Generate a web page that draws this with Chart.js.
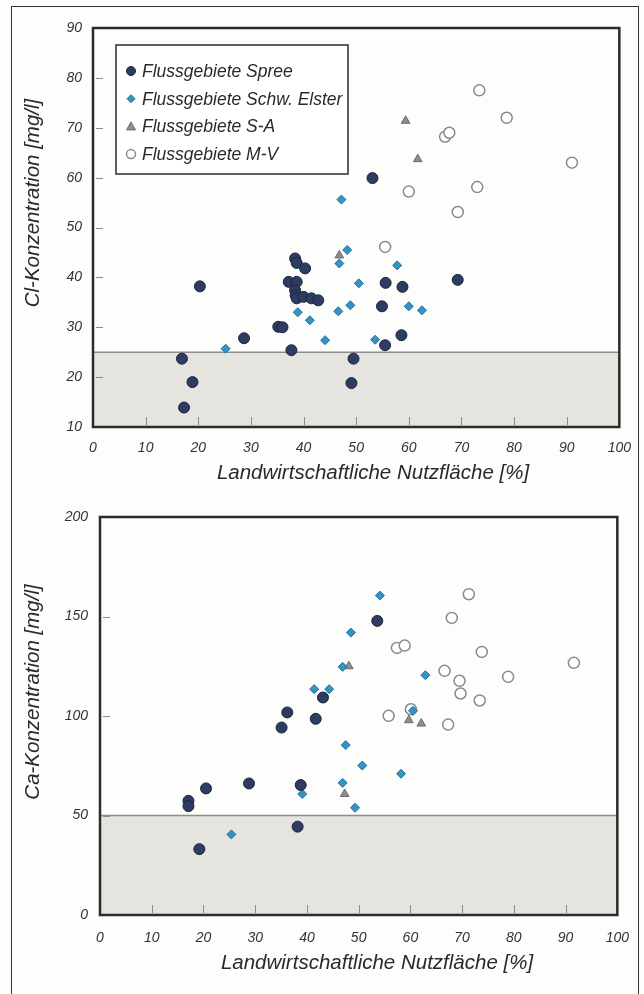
<!DOCTYPE html>
<html>
<head>
<meta charset="utf-8">
<script src="https://cdn.jsdelivr.net/npm/chart.js@4.4.0/dist/chart.umd.min.js"></script>
<style>
    html, body { margin: 0; padding: 0; background: #fdfdfb; }
    #page { position: relative; width: 644px; height: 994px; overflow: hidden; }
    #frame { position: absolute; left: 11px; top: 6px; width: 628px; height: 1000px; border: 1.5px solid #333; box-sizing: border-box; }
    #clChart { position: absolute; left: 0; top: 0; }
    #caChart { position: absolute; left: 0; top: 490px; }
</style>
</head>
<body>
<div id="page">
    <div id="frame"></div>
    <canvas id="clChart" width="644" height="490"></canvas>
    <canvas id="caChart" width="644" height="504"></canvas>
</div>
<script>
// Series names
var seriesNames = ['Flussgebiete Spree', 'Flussgebiete Schw. Elster', 'Flussgebiete S-A', 'Flussgebiete M-V'];

// Cl-Konzentration [mg/l] vs. landwirtschaftliche Nutzfläche [%]
var spreeClX = [16.9, 18.9, 17.3, 20.3, 28.7, 35.2, 36.0, 37.7, 38.4, 38.7, 40.3, 37.2, 38.7, 38.4, 38.5, 38.7, 40.0, 41.5, 42.8, 49.5, 49.1, 53.1, 54.9, 55.6, 55.5, 58.8, 58.6, 69.3];
var spreeClY = [23.7, 19.0, 13.9, 38.2, 27.8, 30.1, 30.0, 25.4, 43.8, 42.9, 41.8, 39.1, 39.1, 37.4, 36.4, 35.8, 36.1, 35.8, 35.4, 23.7, 18.8, 59.9, 34.2, 38.9, 26.4, 38.1, 28.4, 39.5];
var elsterClX = [25.2, 38.9, 41.2, 44.1, 46.8, 47.2, 48.3, 46.6, 48.9, 50.5, 53.6, 57.8, 60.0, 62.5];
var elsterClY = [25.7, 33.0, 31.4, 27.4, 42.8, 55.6, 45.5, 33.2, 34.4, 38.8, 27.5, 42.4, 34.2, 33.4];
var saClX = [46.8, 59.4, 61.7];
var saClY = [44.4, 71.4, 63.7];
var mvClX = [55.5, 60.0, 66.9, 67.7, 69.3, 73.0, 73.4, 78.6, 91.0];
var mvClY = [46.1, 57.2, 68.2, 69.0, 53.1, 58.1, 77.5, 72.0, 63.0];

// Ca-Konzentration [mg/l] vs. landwirtschaftliche Nutzfläche [%]
var spreeCaX = [17.1, 17.1, 19.2, 20.5, 28.8, 35.1, 36.2, 38.8, 38.2, 41.7, 43.1, 53.6];
var spreeCaY = [57.4, 54.7, 33.1, 63.6, 66.1, 94.2, 101.8, 65.3, 44.4, 98.6, 109.3, 147.8];
var elsterCaX = [25.4, 39.1, 41.4, 44.3, 46.9, 48.5, 47.5, 50.7, 46.9, 49.3, 54.1, 58.2, 60.5, 62.9];
var elsterCaY = [40.5, 60.8, 113.5, 113.5, 124.7, 141.9, 85.4, 75.1, 66.4, 53.9, 160.5, 71.0, 102.6, 120.5];
var saCaX = [48.1, 47.3, 59.7, 62.1];
var saCaY = [125.0, 60.8, 97.9, 96.2];
var mvCaX = [55.8, 57.4, 58.9, 60.1, 66.6, 67.3, 68.0, 69.5, 69.7, 71.3, 73.4, 73.8, 78.9, 91.6];
var mvCaY = [100.1, 134.2, 135.4, 103.4, 122.7, 95.7, 149.3, 117.7, 111.3, 161.2, 107.8, 132.2, 119.7, 126.7];

// Shaded range below the limit
var clLimit = 25;
var caLimit = 50;

var FONT = "'Liberation Sans', Arial, sans-serif";

var styles = [
    { pointStyle: 'circle', pointRadius: 5.5, backgroundColor: '#2e3c62', borderColor: '#1b2440', borderWidth: 1 },
    { pointStyle: 'rectRot', pointRadius: 4.5, backgroundColor: '#3592c4', borderColor: '#24719e', borderWidth: 1 },
    { pointStyle: 'triangle', pointRadius: 5, backgroundColor: '#8e8e8e', borderColor: '#6a6a6a', borderWidth: 1 },
    { pointStyle: 'circle', pointRadius: 5.5, backgroundColor: '#ffffff', borderColor: '#8a8a8a', borderWidth: 1.5 }
];

function pts(xs, ys) {
    return xs.map(function(x, i) { return { x: x, y: ys[i] }; });
}

function buildDatasets(series) {
    return series.map(function(s, i) {
        return Object.assign({ label: seriesNames[i], data: pts(s[0], s[1]), pointHoverRadius: styles[i].pointRadius }, styles[i]);
    });
}

// band, inner ticks, frame, titles and legend
var decorPlugin = {
    id: 'decor',
    beforeDatasetsDraw: function(chart, args, o) {
        var ctx = chart.ctx, a = chart.chartArea, x = chart.scales.x, y = chart.scales.y;
        ctx.save();
        var top = y.getPixelForValue(o.band);
        ctx.fillStyle = '#e5e4df';
        ctx.fillRect(a.left, top, a.right - a.left, a.bottom - top);
        ctx.strokeStyle = '#8d8d8d';
        ctx.lineWidth = 1.5;
        ctx.beginPath();
        ctx.moveTo(a.left, top);
        ctx.lineTo(a.right, top);
        ctx.stroke();

        ctx.strokeStyle = '#8a8a8a';
        ctx.lineWidth = 1;
        ctx.beginPath();
        y.ticks.forEach(function(t) {
            var py = Math.round(y.getPixelForValue(t.value)) + 0.5;
            ctx.moveTo(a.left + 3, py);
            ctx.lineTo(a.left + 10, py);
        });
        x.ticks.forEach(function(t) {
            var px = Math.round(x.getPixelForValue(t.value)) + 0.5;
            ctx.moveTo(px, a.bottom - 2);
            ctx.lineTo(px, a.bottom - 10);
        });
        ctx.stroke();
        ctx.restore();
    },
    afterDraw: function(chart, args, o) {
        var ctx = chart.ctx, a = chart.chartArea;
        ctx.save();
        ctx.strokeStyle = '#2b2b2b';
        ctx.lineWidth = 2.5;
        ctx.strokeRect(a.left, a.top, a.right - a.left, a.bottom - a.top);

        ctx.fillStyle = '#2a2a2a';
        ctx.font = 'italic 20.5px ' + FONT;
        ctx.textAlign = 'center';
        ctx.textBaseline = 'middle';
        ctx.fillText(o.xTitle.text, o.xTitle.x, o.xTitle.y);
        ctx.save();
        ctx.translate(o.yTitle.x, o.yTitle.y);
        ctx.rotate(-Math.PI / 2);
        ctx.fillText(o.yTitle.text, 0, 0);
        ctx.restore();

        if (o.legend) {
            var L = o.legend;
            ctx.fillStyle = '#ffffff';
            ctx.fillRect(L.left, L.top, L.width, L.height);
            ctx.strokeStyle = '#2b2b2b';
            ctx.lineWidth = 1.5;
            ctx.strokeRect(L.left, L.top, L.width, L.height);
            ctx.font = 'italic 17.5px ' + FONT;
            ctx.textAlign = 'left';
            chart.data.datasets.forEach(function(ds, i) {
                var cy = L.firstY + i * L.step;
                var mx = L.left + 15;
                ctx.fillStyle = ds.backgroundColor;
                ctx.strokeStyle = ds.borderColor;
                ctx.lineWidth = ds.borderWidth;
                ctx.beginPath();
                if (ds.pointStyle === 'rectRot') {
                    ctx.moveTo(mx, cy - 4); ctx.lineTo(mx + 4, cy); ctx.lineTo(mx, cy + 4); ctx.lineTo(mx - 4, cy);
                    ctx.closePath();
                } else if (ds.pointStyle === 'triangle') {
                    ctx.moveTo(mx, cy - 4.5); ctx.lineTo(mx + 4.5, cy + 3.5); ctx.lineTo(mx - 4.5, cy + 3.5);
                    ctx.closePath();
                } else {
                    ctx.arc(mx, cy, 4.5, 0, Math.PI * 2);
                }
                ctx.fill();
                ctx.stroke();
                ctx.fillStyle = '#2a2a2a';
                ctx.fillText(ds.label, L.left + 26, cy + 1);
            });
        }
        ctx.restore();
    }
};

function makeChart(id, series, cfg) {
    var tickFont = { family: FONT, size: 14, style: 'italic' };
    return new Chart(document.getElementById(id), {
        type: 'scatter',
        data: { datasets: buildDatasets(series) },
        plugins: [decorPlugin],
        options: {
            responsive: false,
            animation: false,
            layout: { padding: cfg.padding },
            plugins: {
                legend: { display: false },
                tooltip: { enabled: false },
                decor: cfg.decor
            },
            scales: {
                x: {
                    type: 'linear', min: 0, max: 100,
                    ticks: { stepSize: 10, font: tickFont, color: '#333', padding: cfg.xPad, maxRotation: 0 },
                    grid: { display: false, drawTicks: false },
                    border: { display: false },
                    afterFit: function(s) { s.height = cfg.xHeight; }
                },
                y: {
                    type: 'linear', min: cfg.yMin, max: cfg.yMax,
                    ticks: { stepSize: cfg.yStep, font: tickFont, color: '#333', padding: cfg.yPad },
                    grid: { display: false, drawTicks: false },
                    border: { display: false },
                    afterFit: function(s) { s.width = cfg.yWidth; }
                }
            }
        }
    });
}

makeChart('clChart',
    [[spreeClX, spreeClY], [elsterClX, elsterClY], [saClX, saClY], [mvClX, mvClY]],
    {
        padding: { top: 28, right: 21, left: 0, bottom: 0 },
        yWidth: 93, xHeight: 63, xPad: 13, yPad: 11,
        yMin: 10, yMax: 90, yStep: 10,
        decor: {
            band: clLimit,
            xTitle: { text: 'Landwirtschaftliche Nutzfläche [%]', x: 373, y: 473 },
            yTitle: { text: 'Cl-Konzentration [mg/l]', x: 33, y: 203 },
            legend: { left: 116, top: 45, width: 232, height: 129, firstY: 71, step: 27.7 }
        }
    });

makeChart('caChart',
    [[spreeCaX, spreeCaY], [elsterCaX, elsterCaY], [saCaX, saCaY], [mvCaX, mvCaY]],
    {
        padding: { top: 27, right: 21, left: 0, bottom: 0 },
        yWidth: 100, xHeight: 79, xPad: 15, yPad: 12,
        yMin: 0, yMax: 200, yStep: 50,
        decor: {
            band: caLimit,
            xTitle: { text: 'Landwirtschaftliche Nutzfläche [%]', x: 377, y: 473 },
            yTitle: { text: 'Ca-Konzentration [mg/l]', x: 33, y: 202 }
        }
    });
</script>
</body>
</html>
